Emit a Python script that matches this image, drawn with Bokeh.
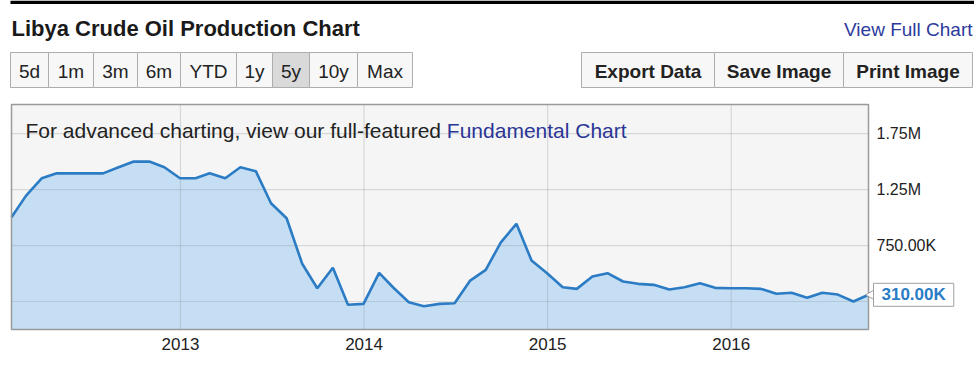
from datetime import datetime
import calendar
import math
from bokeh.plotting import figure
from bokeh.models import (Range1d, FixedTicker, DatetimeTickFormatter, Label,
                          LinearAxis, DatetimeAxis)
from bokeh.embed import file_html
from bokeh.resources import INLINE
from bokeh.core.properties import value

# ---------------- data ----------------
TITLE = "Libya Crude Oil Production Chart"
LINK_TEXT = "View Full Chart"
RANGE_BUTTONS = ["5d", "1m", "3m", "6m", "YTD", "1y", "5y", "10y", "Max"]
SELECTED_BUTTON = "5y"
ACTION_BUTTONS = ["Export Data", "Save Image", "Print Image"]
NOTE_TEXT = "For advanced charting, view our full-featured "
NOTE_LINK = "Fundamental Chart"

START_YEAR, START_MONTH = 2012, 1
# monthly crude oil production, barrels per day (Jan 2012 .. Sep 2016)
production = [
    1003000, 1196000, 1351000, 1395000, 1395000, 1395000, 1395000, 1449000,
    1500000, 1500000, 1449000, 1351000, 1351000, 1395000, 1351000, 1449000,
    1413000, 1128000, 994000, 587000, 369000, 551000, 221000, 229000,
    506000, 375000, 244000, 208000, 229000, 235000, 437000, 533000,
    779000, 944000, 616000, 503000, 378000, 363000, 473000, 503000,
    429000, 408000, 399000, 357000, 378000, 413000, 372000, 369000,
    369000, 363000, 319000, 328000, 283000, 328000, 312000, 250000,
    310000,
]
y_ticks = [250000, 750000, 1250000, 1750000]
y_tick_labels = ["", "750.00K", "1.25M", "1.75M"]
x_tick_years = [2013, 2014, 2015, 2016]
Y_MAX = 2.01e6
last_value_label = "310.00K"

# ---------------- derived ----------------
dates = []
yy, mm = START_YEAR, START_MONTH
for _ in production:
    dates.append(datetime(yy, mm, calendar.monthrange(yy, mm)[1]))
    mm += 1
    if mm > 12:
        mm, yy = 1, yy + 1

EPOCH = datetime(1970, 1, 1)
def ms(d):
    return (d - EPOCH).total_seconds() * 1000.0

year_ms = [ms(datetime(y, 1, 1)) for y in x_tick_years]
t0, t1 = ms(dates[0]), ms(dates[-1])

FONT = value("Liberation Sans")
W, H = 974, 383
# pixel layout of the plot box inside the canvas
BOX_L, BOX_R, BOX_T, BOX_B = 11, 868, 104, 329
ppx = (t1 - t0) / (BOX_R - BOX_L)
ppy = Y_MAX / (BOX_B - BOX_T)

p = figure(width=W, height=H,
           x_range=Range1d(t0 - BOX_L * ppx, t1 + (W - BOX_R) * ppx),
           y_range=Range1d(-(H - BOX_B) * ppy, Y_MAX + BOX_T * ppy),
           x_axis_location=None, y_axis_location=None, toolbar_location=None,
           output_backend="svg", min_border=0)
p.grid.visible = False
p.outline_line_color = None
p.background_fill_color = "white"
p.border_fill_color = "white"
p.extra_x_ranges = {"px": Range1d(0, W)}
p.extra_y_ranges = {"px": Range1d(H, 0)}
PX = dict(x_range_name="px", y_range_name="px")

# ---------------- header ----------------
p.quad(left=[10], right=[W], top=[0], bottom=[3.5], fill_color="black", line_color=None, **PX)
p.text(x=[11], y=[27.5], text=[TITLE], text_font=FONT, text_font_style="bold",
       text_font_size="22px", text_color="#1a1a1a", text_baseline="alphabetic", **PX)
p.text(x=[972], y=[29], text=[LINK_TEXT], text_font=FONT, text_font_size="19px",
       text_color="#2d3a9c", text_align="right", text_baseline="alphabetic", **PX)

range_edges = [10, 48, 93, 137, 180, 236, 272, 309, 357, 412]
action_edges = [581, 714, 843, 972]
btn_top, btn_bot = 52, 87

lefts, rights = range_edges[:-1], range_edges[1:]
fills = ["#d9d9d9" if b == SELECTED_BUTTON else "#f7f7f7" for b in RANGE_BUTTONS]
p.quad(left=lefts, right=rights, top=btn_top, bottom=btn_bot, fill_color=fills,
       line_color="#adadad", line_width=1, **PX)
p.text(x=[(a + b) / 2 for a, b in zip(lefts, rights)], y=(btn_top + btn_bot) / 2 + 1,
       text=RANGE_BUTTONS, text_font=FONT, text_font_size="19px", text_color="#222222",
       text_align="center", text_baseline="middle", **PX)

alefts, arights = action_edges[:-1], action_edges[1:]
p.quad(left=alefts, right=arights, top=btn_top, bottom=btn_bot, fill_color="#f7f7f7",
       line_color="#adadad", line_width=1, **PX)
p.text(x=[(a + b) / 2 for a, b in zip(alefts, arights)], y=(btn_top + btn_bot) / 2 + 1,
       text=ACTION_BUTTONS, text_font=FONT, text_font_size="19px", text_font_style="bold",
       text_color="#222222", text_align="center", text_baseline="middle", **PX)

# ---------------- chart ----------------
# plot box background
p.quad(left=[t0], right=[t1], bottom=[0], top=[Y_MAX], fill_color="#f5f5f5", line_color=None)
# area + grid + line
p.varea(x=dates, y1=0, y2=production, fill_color="#c5def3")
p.segment(x0=year_ms, y0=0, x1=year_ms, y1=Y_MAX, line_color="#8f969c", line_alpha=0.3,
          line_width=1.2)
p.segment(x0=t0, y0=y_ticks, x1=t1, y1=y_ticks, line_color="#8f969c", line_alpha=0.3,
          line_width=1.2)
p.line(x=dates, y=production, line_color="#2b7cc4", line_width=2.6)
# plot box outline
p.quad(left=[t0], right=[t1], bottom=[0], top=[Y_MAX], fill_color=None,
       line_color="#9a9a9a", line_width=1.5)

xaxis = DatetimeAxis(fixed_location=0, bounds=(t0, t1),
                     ticker=FixedTicker(ticks=year_ms),
                     formatter=DatetimeTickFormatter(years="%Y", months="%Y", days="%Y",
                                                     hours="%Y"))
yaxis = LinearAxis(fixed_location=t1, bounds=(0, Y_MAX), ticker=FixedTicker(ticks=y_ticks),
                   major_label_overrides=dict(zip(y_ticks, y_tick_labels)))
for ax in (xaxis, yaxis):
    ax.axis_line_color = None
    ax.major_tick_line_color = None
    ax.minor_tick_line_color = None
    ax.major_tick_out = 0
    ax.major_tick_in = 0
    ax.minor_tick_out = 0
    ax.major_label_text_font = "Liberation Sans"
    ax.major_label_text_color = "#222222"
xaxis.major_label_text_font_size = "17px"
yaxis.major_label_text_font_size = "16px"
xaxis.major_label_standoff = 8
yaxis.major_label_standoff = 8
p.add_layout(xaxis, "below")
p.add_layout(yaxis, "right")

# note text inside the plot box
p.text(x=[25], y=[130], text=[NOTE_TEXT], text_font=FONT, text_font_size="21px",
       text_color="#222222", text_baseline="alphabetic", **PX)
p.text(x=[25 + 20.064 * 21], y=[130], text=[NOTE_LINK], text_font=FONT,
       text_font_size="21px", text_color="#2a3596", text_baseline="alphabetic", **PX)

# last value callout
p.scatter(x=[t1 + 3.5 * ppx], y=[production[-1]], marker="triangle", angle=math.pi / 2,
          size=11, fill_color="white", line_color="#a0a0a0", line_width=1)
p.add_layout(Label(x=t1, y=production[-1], x_offset=5, text=last_value_label,
                   text_font="Liberation Sans", text_font_size="17px",
                   text_font_style="bold", text_color="#2a7cc6", text_baseline="middle",
                   background_fill_color="white", border_line_color="#a0a0a0",
                   padding=dict(left=8, right=8, top=2, bottom=2)))

open("out.html", "w").write(file_html(p, INLINE))
